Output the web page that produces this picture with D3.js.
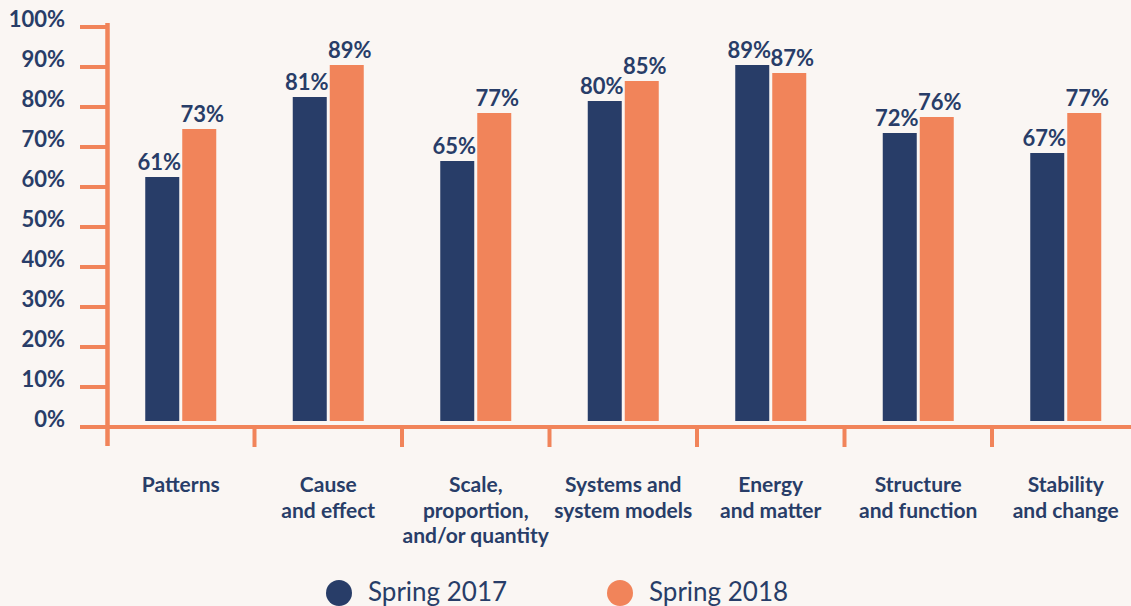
<!DOCTYPE html>
<html>
<head>
<meta charset="utf-8">
<script src="https://cdn.jsdelivr.net/npm/d3@7"></script>
<style>
  html, body { margin: 0; padding: 0; background: #faf6f3; }
  svg { display: block; font-family: Lato, "Open Sans", sans-serif; }
</style>
</head>
<body>
<svg id="chart" width="1131" height="606"></svg>
<script>
const categories = [
  ["Patterns"],
  ["Cause", "and effect"],
  ["Scale,", "proportion,", "and/or quantity"],
  ["Systems and", "system models"],
  ["Energy", "and matter"],
  ["Structure", "and function"],
  ["Stability", "and change"]
];
const series = ["Spring 2017", "Spring 2018"];
const values2017 = [61, 81, 65, 80, 89, 72, 67];
const values2018 = [73, 89, 77, 85, 87, 76, 77];
const yTicks = [0, 10, 20, 30, 40, 50, 60, 70, 80, 90, 100];

const NAVY = "#283d68", ORANGE = "#f1845a";
const colors = [NAVY, ORANGE];
const svg = d3.select("#chart");
const W = 1131;

const keys = categories.map(c => c.join(" "));
const x = d3.scaleBand().domain(keys).range([107, 107 + 7 * 147.5]).padding(0);
const x1 = d3.scaleBand().domain(series).range([-35.5, 35.5]).paddingInner(3 / 37);
const y = d3.scaleLinear().domain([0, 100]).range([421, 21]);

const data = keys.map((k, i) => ({ key: k, vals: [values2017[i], values2018[i]] }));

// y axis
const yAxis = d3.axisLeft(y).tickValues(yTicks).tickSize(27).tickFormat(d => d + "%");
const gy = svg.append("g").attr("transform", "translate(107,5.5)").call(yAxis);
gy.select(".domain").remove();
gy.selectAll(".tick line").attr("stroke", ORANGE).attr("stroke-width", 4);
gy.selectAll(".tick text")
  .attr("x", -42).attr("dy", "-0.02em")
  .attr("fill", NAVY).attr("font-size", 22).attr("font-weight", 700)
  .attr("font-family", "Lato, 'Open Sans', sans-serif");

// axis lines
svg.append("line").attr("x1", 107.5).attr("x2", 107.5).attr("y1", 23).attr("y2", 446)
  .attr("stroke", ORANGE).attr("stroke-width", 4.5);
svg.append("line").attr("x1", 80).attr("x2", W).attr("y1", y(0) + 6).attr("y2", y(0) + 6)
  .attr("stroke", ORANGE).attr("stroke-width", 4);

// x ticks at category boundaries
svg.append("g").selectAll("line").data(keys.slice(0, -1)).join("line")
  .attr("x1", d => x(d) + x.bandwidth()).attr("x2", d => x(d) + x.bandwidth())
  .attr("y1", y(0) + 6).attr("y2", 447)
  .attr("stroke", ORANGE).attr("stroke-width", 4);

// bars
const groups = svg.append("g").selectAll("g").data(data).join("g")
  .attr("transform", d => `translate(${x(d.key) + x.bandwidth() / 2},0)`);
groups.selectAll("rect").data(d => d.vals.map((v, j) => ({ v, s: series[j], j }))).join("rect")
  .attr("x", d => x1(d.s)).attr("width", x1.bandwidth())
  .attr("y", d => y(d.v)).attr("height", d => y(0) - y(d.v))
  .attr("fill", d => colors[d.j]);
groups.selectAll("text").data(d => d.vals.map((v, j) => ({ v, s: series[j], j }))).join("text")
  .attr("x", d => x1(d.s) + x1.bandwidth() / 2 + (d.j === 0 ? -3 : 3))
  .attr("y", d => y(d.v) - 7)
  .attr("text-anchor", "middle")
  .attr("fill", NAVY).attr("font-size", 22).attr("font-weight", 700)
  .text(d => d.v + "%");

// category labels
const cl = svg.append("g").selectAll("text").data(categories).join("text")
  .attr("x", (d, i) => x(keys[i]) + x.bandwidth() / 2)
  .attr("y", 492)
  .attr("text-anchor", "middle")
  .attr("fill", NAVY).attr("font-size", 21).attr("font-weight", 700);
cl.selectAll("tspan").data(d => d).join("tspan")
  .attr("x", function () { return d3.select(this.parentNode).attr("x"); })
  .attr("dy", (d, i) => i === 0 ? 0 : 25.5)
  .text(d => d);

// legend
const legendX = [339, 620];
const lg = svg.append("g").selectAll("g").data(series).join("g")
  .attr("transform", (d, i) => `translate(${legendX[i]},593)`);
lg.append("circle").attr("r", 13).attr("fill", (d, i) => colors[i]);
lg.append("text").attr("x", 29).attr("y", 8)
  .attr("fill", NAVY).attr("font-size", 26).attr("font-weight", 400)
  .text(d => d);
</script>
</body>
</html>
